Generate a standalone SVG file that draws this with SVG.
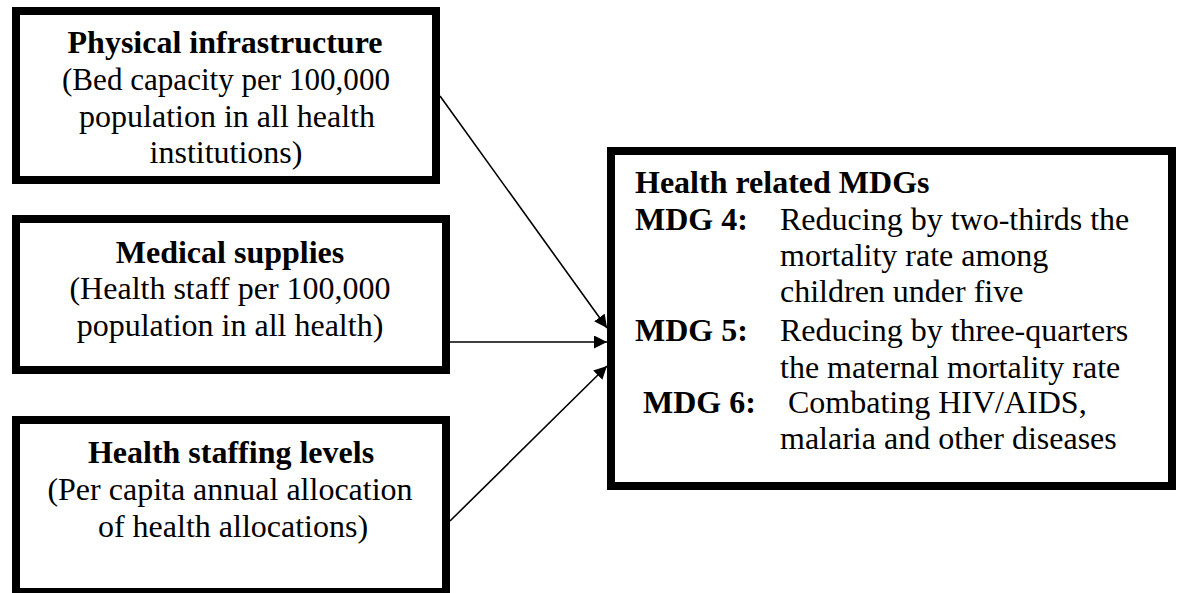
<svg xmlns="http://www.w3.org/2000/svg" width="1183" height="593" viewBox="0 0 1183 593">
<style>
.box{fill:#fff;stroke:#000;stroke-width:8}
.t{font-family:"Liberation Serif","Times New Roman",serif;font-size:32px;fill:#000}
.b{font-weight:bold}
.m{text-anchor:middle}
.c{fill:none;stroke:#000;stroke-width:1.6}
</style>
<defs>
<marker id="ah" markerUnits="userSpaceOnUse" markerWidth="14" markerHeight="14" refX="13" refY="6.5" orient="auto">
<path d="M0,0 L13,6.5 L0,13 z" fill="#000"/>
</marker>
</defs>
<rect width="1183" height="593" fill="#fff"/>
<g id="connectors">
<line class="c" x1="440" y1="96" x2="607" y2="328" marker-end="url(#ah)"/>
<line class="c" x1="450" y1="342" x2="607" y2="342" marker-end="url(#ah)"/>
<line class="c" x1="450" y1="521" x2="607" y2="366" marker-end="url(#ah)"/>
</g>
<g id="physical-infrastructure">
<rect class="box" x="16" y="11" width="420" height="169"/>
<text class="t b m" x="225" y="53">Physical infrastructure</text>
<text class="t m" x="226" y="90" textLength="328" lengthAdjust="spacingAndGlyphs">(Bed capacity per 100,000</text>
<text class="t m" x="227" y="127">population in all health</text>
<text class="t m" x="226" y="163">institutions)</text>
</g>
<g id="medical-supplies">
<rect class="box" x="16" y="219" width="430" height="151"/>
<text class="t b m" x="230" y="263">Medical supplies</text>
<text class="t m" x="230" y="299">(Health staff per 100,000</text>
<text class="t m" x="230" y="336">population in all health)</text>
</g>
<g id="health-staffing-levels">
<rect class="box" x="16" y="420" width="430" height="172"/>
<text class="t b m" x="231" y="463">Health staffing levels</text>
<text class="t m" x="230" y="500">(Per capita annual allocation</text>
<text class="t m" x="233" y="537">of health allocations)</text>
</g>
<g id="health-related-mdgs">
<rect class="box" x="611" y="151" width="561" height="335"/>
<text class="t b" x="635" y="193">Health related MDGs</text>
<text class="t b" x="635" y="230">MDG 4:</text>
<text class="t" x="780" y="230">Reducing by two-thirds the</text>
<text class="t" x="780" y="266">mortality rate among</text>
<text class="t" x="780" y="302">children under five</text>
<text class="t b" x="635" y="341">MDG 5:</text>
<text class="t" x="780" y="341">Reducing by three-quarters</text>
<text class="t" x="780" y="378">the maternal mortality rate</text>
<text class="t b" x="643" y="413">MDG 6:</text>
<text class="t" x="788" y="413">Combating HIV/AIDS,</text>
<text class="t" x="780" y="449">malaria and other diseases</text>
</g>
</svg>
